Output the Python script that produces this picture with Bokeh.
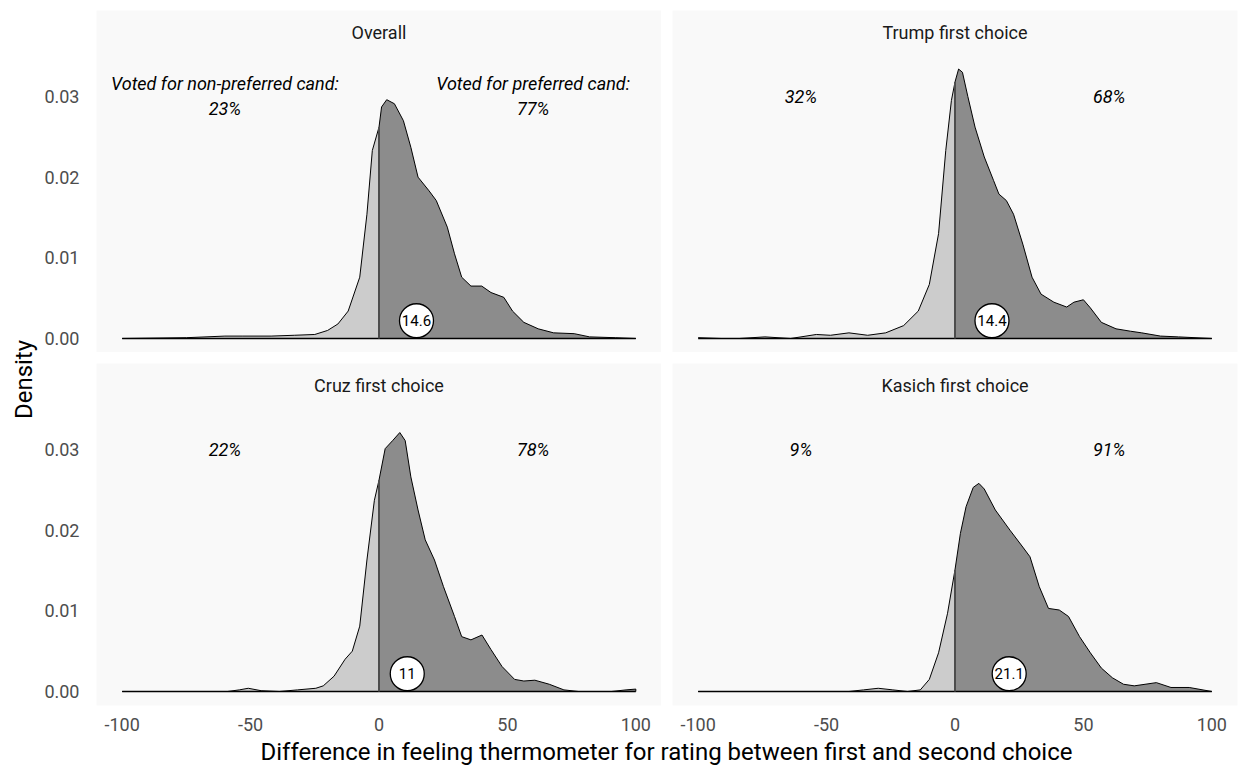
import numpy as np
from bokeh.plotting import figure
from bokeh.layouts import row, column
from bokeh.models import Range1d, FixedTicker, PrintfTickFormatter
from bokeh.core.properties import value
from bokeh.embed import file_html
from bokeh.resources import INLINE

# ---------------- data ----------------
panel_titles = ["Overall", "Trump first choice", "Cruz first choice", "Kasich first choice"]

overall_x = [-100, -75, -60, -53, -42, -33, -25, -20, -16, -12, -7.5, -4.7, -2.6, 0,
             1, 3, 6, 9.5, 12.4, 15.2, 19.5, 22.3, 26.6, 29.4, 32.2, 35.8, 40, 43.6,
             48.6, 52, 56.4, 62, 68, 76, 82, 92, 100]
overall_y = [0, 0.0001, 0.0003, 0.0003, 0.0003, 0.0004, 0.0005, 0.001, 0.0018, 0.0034,
             0.0076, 0.0154, 0.0233, 0.0262, 0.0287, 0.0296, 0.0291, 0.027, 0.0237,
             0.020, 0.0183, 0.0171, 0.0138, 0.0105, 0.0076, 0.0065, 0.0065, 0.0057,
             0.0051, 0.0034, 0.002, 0.0012, 0.0007, 0.0006, 0.0002, 0.0001, 0]

trump_x = [-100, -91, -84, -74, -64, -54, -48.5, -41.3, -34, -27, -20, -14.3, -10, -6.4,
           -3.6, -1.4, 0, 1.4, 2.9, 5, 7.8, 11.4, 15, 17.1, 20, 22.8, 26.4, 30, 33.5,
           38.5, 43.5, 46.3, 50, 52.7, 57, 62.7, 68.4, 72.7, 80, 87, 100]
trump_y = [0.0001, 0, 0, 0.0002, 0, 0.0005, 0.0004, 0.0007, 0.0004, 0.0007, 0.0016,
           0.0034, 0.0067, 0.013, 0.0233, 0.0295, 0.0318, 0.0334, 0.033, 0.030, 0.0262,
           0.0225, 0.0196, 0.0179, 0.0171, 0.0154, 0.0117, 0.0076, 0.0055, 0.0045,
           0.0039, 0.0045, 0.0048, 0.0038, 0.002, 0.0012, 0.0009, 0.0007, 0.0003,
           0.0002, 0]

cruz_x = [-100, -59, -54.4, -50.9, -45.9, -38.8, -31.7, -24.6, -21.7, -17.5, -13.2,
          -10.4, -7.5, -4.7, -1.8, 0, 2.4, 5.3, 8.1, 10.2, 12.4, 15.2, 18, 21.6, 25.1,
          29.4, 32.2, 35.8, 40.1, 43.6, 47.9, 52.8, 56.4, 60.7, 66.3, 72, 77.7, 90.5,
          96.2, 100]
cruz_y = [0, 0, 0.0002, 0.0004, 0.0001, 0, 0.0002, 0.0004, 0.0007, 0.0019, 0.004,
          0.005, 0.0081, 0.0163, 0.0237, 0.0262, 0.0301, 0.0311, 0.0321, 0.0311, 0.0266,
          0.0225, 0.0188, 0.0163, 0.013, 0.0093, 0.0068, 0.0064, 0.007, 0.0052, 0.0031,
          0.0015, 0.0013, 0.0014, 0.0009, 0.0002, 0, 0, 0.0002, 0.0003]

kasich_x = [-100, -41.3, -35.6, -29.9, -24.2, -18.5, -13.5, -10, -6.4, -2.9, 0, 2.1,
            4.3, 7.1, 9.3, 11.4, 15.7, 21.4, 26.4, 29.2, 32.8, 36.4, 40.6, 44.2, 48.5,
            52.7, 57, 61.3, 65.6, 69.8, 78.4, 84.1, 91.2, 100]
kasich_y = [0, 0, 0.0002, 0.0004, 0.0002, 0, 0.0002, 0.0015, 0.0048, 0.0097, 0.0151,
            0.0196, 0.0229, 0.0253, 0.0258, 0.0251, 0.0225, 0.020, 0.0179, 0.0167, 0.013,
            0.0103, 0.0101, 0.0093, 0.0068, 0.0048, 0.0029, 0.0017, 0.0009, 0.0007,
            0.0011, 0.0005, 0.0005, 0]

curves_x = [overall_x, trump_x, cruz_x, kasich_x]
curves_y = [overall_y, trump_y, cruz_y, kasich_y]

means = [14.6, 14.4, 11, 21.1]
mean_labels = ["14.6", "14.4", "11", "21.1"]
pct_nonpref = ["23%", "32%", "22%", "9%"]
pct_pref = ["77%", "68%", "78%", "91%"]
header_nonpref = "Voted for non-preferred cand:"
header_pref = "Voted for preferred cand:"

x_ticks = [-100, -50, 0, 50, 100]
x_tick_labels = ["-100", "-50", "0", "50", "100"]
y_ticks = [0, 0.01, 0.02, 0.03]

# ---------------- styling ----------------
FONT = "Roboto"
PANEL_BG = "#F9F9F9"
LEFT_FILL = "#CCCCCC"
RIGHT_FILL = "#8C8C8C"
TICK_COL = "#4D4D4D"

X_RANGE = (-110, 110)
Y_RANGE = (-0.001735, 0.040657)
STRIP_Y = 0.0379
LABEL_X = (-60, 60)
LABEL_Y = 0.03
MEAN_Y = 0.0022


def make_panel(i, left, bottom):
    w = 621 if left else 577
    h = 383 if bottom else 352
    p = figure(width=w, height=h, output_backend="svg", toolbar_location=None,
               x_range=Range1d(*X_RANGE), y_range=Range1d(*Y_RANGE),
               x_axis_location="below" if bottom else None,
               y_axis_location="left" if left else None,
               min_border_left=56 if left else 11, min_border_right=0 if left else 1,
               min_border_top=10 if i < 2 else 11, min_border_bottom=30 if bottom else 0,
               background_fill_color=PANEL_BG, border_fill_color="white",
               outline_line_color=None)
    p.grid.visible = False

    xs = np.array(curves_x[i], dtype=float)
    ys = np.array(curves_y[i], dtype=float)
    lm = xs <= 0
    rm = xs >= 0
    p.varea(x=xs[lm], y1=np.zeros(lm.sum()), y2=ys[lm], fill_color=LEFT_FILL)
    p.varea(x=xs[rm], y1=np.zeros(rm.sum()), y2=ys[rm], fill_color=RIGHT_FILL)
    p.line(xs, ys, line_color="black", line_width=1, line_join="round")
    p.segment(x0=[xs[0]], y0=[0], x1=[xs[-1]], y1=[0], line_color="black", line_width=1.3)
    if xs[-1] == 100 and ys[-1] > 0:
        p.segment(x0=[xs[-1]], y0=[0], x1=[xs[-1]], y1=[ys[-1]], line_color="black", line_width=1)
    d0 = float(ys[xs == 0][0])
    p.segment(x0=[0], y0=[0], x1=[0], y1=[d0], line_color="#4D4D4D", line_width=2)

    # mean marker
    p.scatter(x=[means[i]], y=[MEAN_Y], size=34, fill_color="white", line_color="black",
              line_width=1.3)
    p.text(x=[means[i]], y=[MEAN_Y], text=[mean_labels[i]], text_font=value(FONT),
           text_font_size="15px", text_align="center", text_baseline="middle",
           text_color="black")

    # strip title
    p.text(x=[0], y=[STRIP_Y], text=[panel_titles[i]], text_font=value(FONT),
           text_font_size="18px", text_align="center", text_baseline="middle",
           text_color="#1A1A1A")

    # percentages
    if i == 0:
        p.text(x=list(LABEL_X), y=[LABEL_Y, LABEL_Y], text=[header_nonpref, header_pref],
               text_font=value(FONT), text_font_style="italic", text_font_size="18px",
               text_align="center", text_baseline="middle", text_color="black",
               y_offset=-12.5)
        p.text(x=list(LABEL_X), y=[LABEL_Y, LABEL_Y], text=[pct_nonpref[i], pct_pref[i]],
               text_font=value(FONT), text_font_style="italic", text_font_size="18px",
               text_align="center", text_baseline="middle", text_color="black",
               y_offset=12.5)
    else:
        p.text(x=list(LABEL_X), y=[LABEL_Y, LABEL_Y], text=[pct_nonpref[i], pct_pref[i]],
               text_font=value(FONT), text_font_style="italic", text_font_size="18px",
               text_align="center", text_baseline="middle", text_color="black")

    for ax in p.axis:
        ax.axis_line_color = None
        ax.major_tick_line_color = None
        ax.minor_tick_line_color = None
        ax.major_label_text_font = FONT
        ax.major_label_text_font_size = "18px"
        ax.major_label_text_color = TICK_COL
    if bottom:
        p.xaxis.ticker = FixedTicker(ticks=x_ticks)
        p.xaxis.major_label_overrides = {float(t): lab for t, lab in zip(x_ticks, x_tick_labels)}
        p.xaxis.major_label_standoff = 6
    if left:
        p.yaxis.ticker = FixedTicker(ticks=y_ticks)
        p.yaxis.formatter = PrintfTickFormatter(format="%.2f")
        p.yaxis.major_label_standoff = 11
    return p


tl = make_panel(0, True, False)
tr = make_panel(1, False, False)
bl = make_panel(2, True, True)
br = make_panel(3, False, True)

# y-axis title
ylab = figure(width=40, height=767, output_backend="svg", toolbar_location=None,
              x_range=Range1d(0, 40), y_range=Range1d(0, 767),
              x_axis_location=None, y_axis_location=None, min_border=0,
              outline_line_color=None, background_fill_color="white",
              border_fill_color="white")
ylab.grid.visible = False
ylab.text(x=[23], y=[767 - 379], text=["Density"], angle=np.pi / 2,
          text_font=value(FONT), text_font_size="24px", text_align="center",
          text_baseline="middle", text_color="black")

# x-axis title
xlab = figure(width=1198, height=32, output_backend="svg", toolbar_location=None,
              x_range=Range1d(0, 1198), y_range=Range1d(0, 32),
              x_axis_location=None, y_axis_location=None, min_border=0,
              outline_line_color=None, background_fill_color="white",
              border_fill_color="white")
xlab.grid.visible = False
xlab.text(x=[666 - 40], y=[16], text=["Difference in feeling thermometer for rating between first and second choice"],
          text_font=value(FONT), text_font_size="24px", text_align="center",
          text_baseline="middle", text_color="black")

layout = row(ylab, column(row(tl, tr), row(bl, br), xlab))

with open("out.html", "w") as f:
    f.write(file_html(layout, INLINE))
